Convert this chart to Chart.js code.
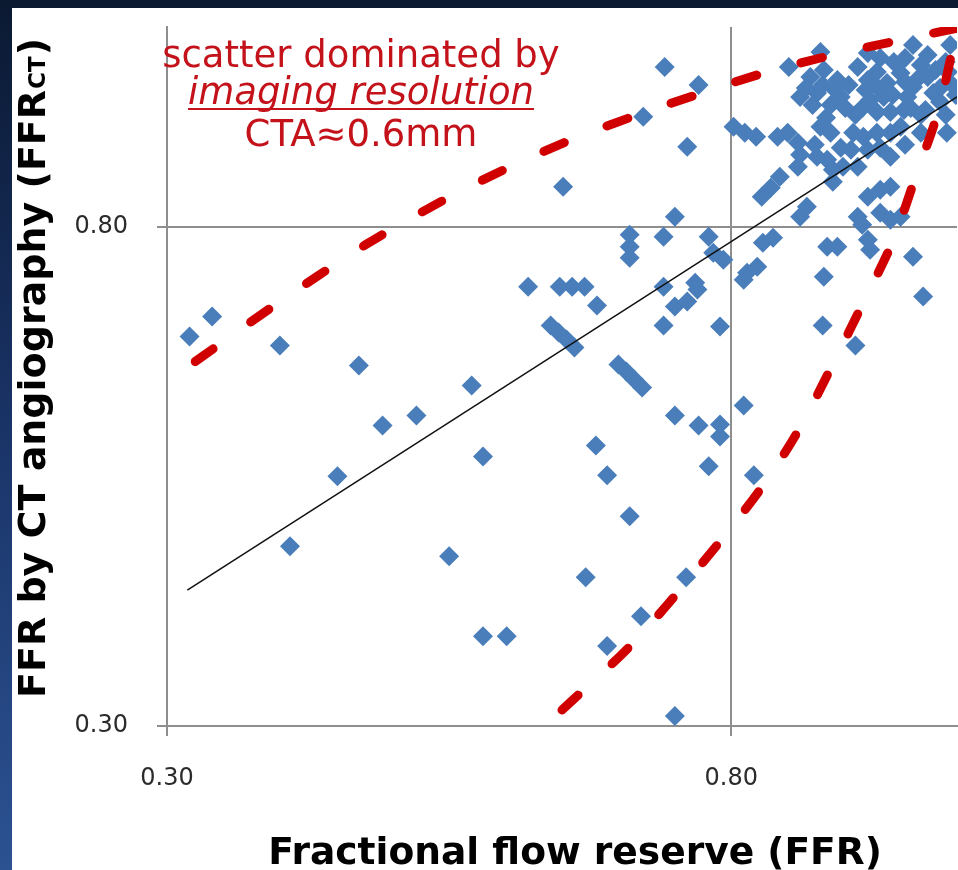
<!DOCTYPE html>
<html><head><meta charset="utf-8">
<script src="https://cdn.jsdelivr.net/npm/chart.js@4/dist/chart.umd.min.js"></script>
<style>html,body{margin:0;padding:0;background:#0c1a32;}canvas{display:block}</style>
</head><body>
<canvas id="c" width="958" height="870"></canvas>
<script>
// ---- data (FFR vs FFR_CT) ----
const ffrX = [
 0.320,0.340,0.400,0.470,0.491,0.521,0.570,0.451,0.409,0.550,0.580,0.580,0.601,
 0.620,0.648,0.659,0.670,0.681,0.640,0.647,0.654,0.661,0.700,0.707,0.714,0.721,
 0.740,0.740,0.750,0.761,0.770,0.790,0.680,0.690,0.710,0.671,0.690,0.720,0.760,0.750,
 0.750,0.771,0.790,0.790,0.780,0.811,0.820,0.651,0.741,0.771,0.722,0.761,0.750,0.740,
 0.710,0.710,0.710,0.780,0.784,0.793,0.768,
 0.802,0.812,0.822,0.841,0.850,0.859,0.861,0.859,0.843,0.835,0.827,
 0.851,0.870,0.882,0.894,0.861,0.876,0.897,0.888,0.912,0.921,0.929,0.938,0.950,0.961,
 0.956,0.974,0.979,0.935,0.923,0.879,0.921,0.961,0.974,0.990,0.994,0.910,0.879,0.888,
 0.908,0.917,0.929,0.941,0.950,0.968,0.991,0.876,0.885,0.890,0.899,0.912,0.941,0.921,
 0.932,0.941,0.867,0.861,0.912,0.916,0.932,0.941,0.950,0.837,0.828,0.921,0.923,0.885,
 0.894,0.961,0.882,0.970,0.814,0.823,0.811,0.881,0.910,0.953,0.968,0.890,0.994,0.985,
 0.932,0.944,0.954,0.968,0.981,0.992,0.919,0.930,0.943,0.954,0.966,0.985,0.999,
 0.916,0.929,0.941,0.959,0.972,0.990,0.866,0.881,0.892,0.904,0.872,0.884,0.901,
 0.874,0.897,0.906,0.921,0.932,0.954
];
const ffrctY = [
 0.690,0.710,0.681,0.661,0.601,0.611,0.641,0.550,0.480,0.470,0.570,0.390,0.390,
 0.740,0.740,0.740,0.740,0.721,0.701,0.694,0.687,0.679,0.662,0.655,0.647,0.639,
 0.701,0.740,0.720,0.725,0.737,0.700,0.581,0.551,0.510,0.449,0.380,0.410,0.449,0.310,
 0.611,0.601,0.602,0.590,0.560,0.621,0.551,0.840,0.960,0.942,0.910,0.880,0.810,0.790,
 0.792,0.780,0.769,0.790,0.774,0.767,0.744,
 0.900,0.894,0.890,0.890,0.894,0.884,0.872,0.860,0.850,0.839,0.830,
 0.960,0.950,0.957,0.947,0.930,0.934,0.930,0.922,0.960,0.947,0.955,0.944,0.954,0.940,
 0.930,0.950,0.934,0.930,0.927,0.975,0.974,0.982,0.972,0.965,0.982,0.912,0.900,0.894,
 0.894,0.890,0.894,0.894,0.900,0.894,0.894,0.870,0.867,0.857,0.860,0.860,0.870,0.830,
 0.837,0.840,0.820,0.810,0.810,0.802,0.814,0.807,0.810,0.789,0.784,0.787,0.777,0.780,
 0.780,0.770,0.750,0.730,0.754,0.760,0.747,0.701,0.681,0.917,0.912,0.845,0.944,0.925,
 0.969,0.965,0.969,0.962,0.957,0.955,0.937,0.939,0.932,0.945,0.949,0.939,0.932,
 0.919,0.915,0.915,0.919,0.917,0.912,0.939,0.942,0.937,0.942,0.922,0.909,0.919,
 0.882,0.879,0.877,0.877,0.879,0.882
];
// regression line
const fitX = [0.318, 1.0];
const fitY = [0.436, 0.930];
// upper and lower "imaging resolution" envelopes
const upperX = [0.325,0.395,0.476,0.549,0.604,0.660,0.717,0.774,0.832,0.890,0.950,1.001];
const upperY = [0.665,0.721,0.782,0.829,0.860,0.888,0.912,0.934,0.955,0.972,0.987,0.999];
const lowerX = [0.650,0.712,0.775,0.827,0.861,0.892,0.917,0.943,0.963,0.983,0.994,1.000];
const lowerY = [0.316,0.382,0.464,0.539,0.599,0.667,0.724,0.785,0.849,0.914,0.967,0.999];
// axes
const tickValues = [0.3, 0.8];
const tickLabels = ['0.30', '0.80'];
const xTitle = 'Fractional flow reserve (FFR)';
const yTitleMain = 'FFR by CT angiography (FFR';
const yTitleSub = 'CT';
const yTitleEnd = ')';
const noteLines = ['scatter dominated by', 'imaging resolution', 'CTA\u22480.6mm'];

const pts = (xs, ys) => xs.map((x, i) => ({x: x, y: ys[i]}));

const bgPlugin = {
  id: 'bg',
  beforeDraw(chart) {
    const ctx = chart.ctx, W = chart.width, H = chart.height;
    ctx.save();
    ctx.fillStyle = '#0b1931';
    ctx.fillRect(0, 0, W, H);
    const g = ctx.createLinearGradient(0, 0, 0, H);
    g.addColorStop(0, '#0b1932');
    g.addColorStop(0.5, '#1a3468');
    g.addColorStop(1, '#2c5292');
    ctx.fillStyle = g;
    ctx.fillRect(0, 8, 12, H - 8);
    ctx.fillStyle = '#ffffff';
    ctx.fillRect(12, 8, W - 12, H - 8);
    ctx.restore();
  }
};

const textPlugin = {
  id: 'texts',
  afterDraw(chart) {
    const ctx = chart.ctx;
    ctx.save();
    // x title
    ctx.fillStyle = '#000';
    ctx.font = 'bold 37.6px "DejaVu Sans"';
    ctx.textAlign = 'center';
    ctx.textBaseline = 'alphabetic';
    ctx.fillText(xTitle, 575, 864);
    // y title, rotated, with subscript
    ctx.save();
    ctx.translate(45, 368);
    ctx.rotate(-Math.PI / 2);
    ctx.textAlign = 'left';
    const fMain = 'bold 38px "DejaVu Sans"', fSub = 'bold 23px "DejaVu Sans"';
    ctx.font = fMain; const w1 = ctx.measureText(yTitleMain).width; const w3 = ctx.measureText(yTitleEnd).width;
    ctx.font = fSub; const w2 = ctx.measureText(yTitleSub).width + 2;
    const x0 = -(w1 + w2 + w3) / 2;
    ctx.font = fMain; ctx.fillText(yTitleMain, x0, 0);
    ctx.font = fSub; ctx.fillText(yTitleSub, x0 + w1 + 1, 0);
    ctx.font = fMain; ctx.fillText(yTitleEnd, x0 + w1 + w2, 0);
    ctx.restore();
    // annotation
    ctx.fillStyle = '#c4121a';
    ctx.textAlign = 'center';
    ctx.font = '37px "DejaVu Sans"';
    ctx.fillText(noteLines[0], 361, 67);
    ctx.font = 'italic 37px "DejaVu Sans"';
    ctx.fillText(noteLines[1], 361, 104);
    const wu = ctx.measureText(noteLines[1]).width;
    ctx.fillRect(361 - wu / 2, 108, wu, 2);
    ctx.font = '37px "DejaVu Sans"';
    ctx.fillText(noteLines[2], 361, 146);
    ctx.restore();
  }
};

const zeroPad = s => { s.paddingTop = 0; s.paddingBottom = 0; s.paddingLeft = 0; s.paddingRight = 0; };

const axisCommon = {
  type: 'linear', min: 0.3, max: 1.0,
  afterBuildTicks: s => { s.ticks = tickValues.map(v => ({value: v})); },
  grid: { color: '#8e8e8e', lineWidth: 2, tickLength: 10, drawTicks: true },
  border: { display: true, color: '#8e8e8e', width: 2 },
};

new Chart(document.getElementById('c'), {
  type: 'scatter',
  data: {
    datasets: [
      { label: 'upper', data: pts(upperX, upperY), showLine: true, borderColor: '#d10000', borderWidth: 9,
        borderDash: [22, 46], borderCapStyle: 'round', pointRadius: 0, tension: 0.3, fill: false, order: 0 },
      { label: 'lower', data: pts(lowerX, lowerY), showLine: true, borderColor: '#d10000', borderWidth: 9,
        borderDash: [22, 46], borderCapStyle: 'round', pointRadius: 0, tension: 0.3, fill: false, order: 0 },
      { label: 'fit', data: pts(fitX, fitY), showLine: true, borderColor: '#111111', borderWidth: 1.5,
        pointRadius: 0, fill: false, order: 1 },
      { label: 'FFR', data: pts(ffrX, ffrctY), pointStyle: 'rectRot', pointRadius: 10, pointHoverRadius: 10,
        backgroundColor: '#4a7ebb', borderWidth: 0, order: 2 }
    ]
  },
  options: {
    responsive: false, animation: false,
    layout: { autoPadding: false, padding: { left: 0, right: 1, top: 27, bottom: 0 } },
    plugins: { legend: { display: false }, tooltip: { enabled: false } },
    scales: {
      x: Object.assign({}, axisCommon, {
        afterFit: s => { s.height = 144; zeroPad(s); },
        ticks: { callback: (v, i) => tickLabels[i], font: { family: 'DejaVu Sans', size: 24 }, color: '#2b2b2b',
                 padding: 28, maxRotation: 0, autoSkip: false }
      }),
      y: Object.assign({}, axisCommon, {
        afterFit: s => { s.width = 167; zeroPad(s); },
        ticks: { callback: (v, i) => tickLabels[i], font: { family: 'DejaVu Sans', size: 24 }, color: '#2b2b2b',
                 padding: 29, autoSkip: false }
      })
    }
  },
  plugins: [bgPlugin, textPlugin]
});
</script>
</body></html>
